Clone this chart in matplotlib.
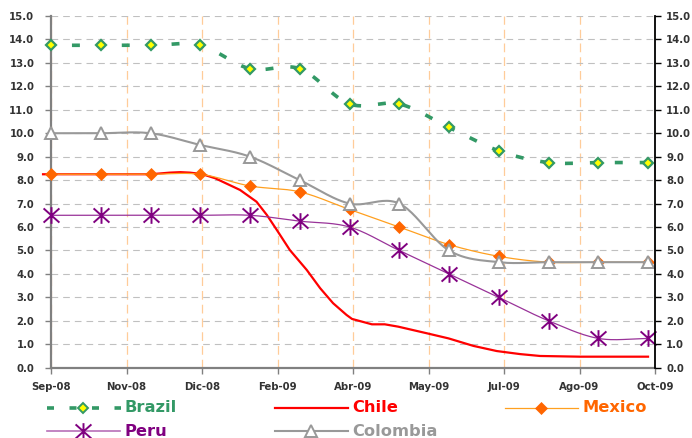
import numpy as np
import matplotlib
matplotlib.use("Agg")
import matplotlib.pyplot as plt
from matplotlib.path import Path
from matplotlib.ticker import FormatStrFormatter

# Monthly policy rates, Sep-08 .. Sep-09
months = np.arange(13)
brazil = [13.75, 13.75, 13.75, 13.75, 12.75, 12.75, 11.25, 11.25, 10.25, 9.25, 8.75, 8.75, 8.75]
mexico = [8.25, 8.25, 8.25, 8.25, 7.75, 7.50, 6.75, 6.00, 5.25, 4.75, 4.50, 4.50, 4.50]
peru = [6.50, 6.50, 6.50, 6.50, 6.50, 6.25, 6.00, 5.00, 4.00, 3.00, 2.00, 1.25, 1.25]
colombia = [10.0, 10.0, 10.0, 9.5, 9.0, 8.0, 7.0, 7.0, 5.0, 4.5, 4.5, 4.5, 4.5]

# Chile series (finer time steps, month units)
chile_t = [-0.16, 1.0, 2.0, 2.39, 2.6, 2.79, 3.03, 3.30, 3.80, 4.13, 4.34, 4.54, 4.80,
           5.14, 5.41, 5.67, 5.94, 6.05, 6.45, 6.71, 6.98, 7.55, 7.99, 8.49, 8.96,
           9.43, 9.83, 10.63, 12.0]
chile = [8.25, 8.25, 8.25, 8.32, 8.34, 8.32, 8.26, 8.08, 7.58, 7.08, 6.51, 5.87, 5.02,
         4.17, 3.39, 2.75, 2.25, 2.08, 1.85, 1.85, 1.75, 1.47, 1.25, 0.93, 0.71,
         0.58, 0.50, 0.47, 0.47]

tick_labels = ["Sep-08", "Nov-08", "Dic-08", "Feb-09", "Abr-09", "May-09",
               "Jul-09", "Ago-09", "Oct-09"]
x_end = 12.14

GREEN = "#339966"
RED = "#FF0000"
ORANGE_LINE = "#FFA020"
ORANGE = "#FF6600"
PURPLE = "#800080"
PURPLE_LINE = "#993399"
GRAY = "#999999"
TXT = "#333333"


def smooth(x, y, n=24):
    """Cardinal (Catmull-Rom) spline through evenly spaced points."""
    x = np.asarray(x, float)
    y = np.asarray(y, float)
    m = np.empty_like(y)
    m[1:-1] = (y[2:] - y[:-2]) / 2.0
    m[0] = (y[1] - y[0]) / 2.0
    m[-1] = (y[-1] - y[-2]) / 2.0
    t = np.linspace(0, 1, n, endpoint=False)
    h00 = 2 * t**3 - 3 * t**2 + 1
    h10 = t**3 - 2 * t**2 + t
    h01 = -2 * t**3 + 3 * t**2
    h11 = t**3 - t**2
    xs, ys = [], []
    for i in range(len(x) - 1):
        xs.append(x[i] + t * (x[i + 1] - x[i]))
        ys.append(h00 * y[i] + h10 * m[i] + h01 * y[i + 1] + h11 * m[i + 1])
    xs.append([x[-1]])
    ys.append([y[-1]])
    return np.concatenate(xs), np.concatenate(ys)


# Excel-like asterisk: an X plus a vertical bar
asterisk = Path([(-0.95, -0.85), (0.95, 0.85), (-0.95, 0.85), (0.95, -0.85), (0, -1), (0, 1)],
                [Path.MOVETO, Path.LINETO, Path.MOVETO, Path.LINETO, Path.MOVETO, Path.LINETO])

W, H = 692, 438
fig = plt.figure(figsize=(W / 100, H / 100), dpi=100)
x0, x1, ytop, ybot = 51, 655, 16, 367.7
ax = fig.add_axes([x0 / W, 1 - ybot / H, (x1 - x0) / W, (ybot - ytop) / H])

ax.set_xlim(0, x_end)
ax.set_ylim(0, 15)
ax.set_axisbelow(True)

# Brazil
bx, by = smooth(months, brazil)
ax.plot(bx, by, color=GREEN, lw=2.6, linestyle=(1.1, (2.2, 4.7)), zorder=3)
ax.plot(months, brazil, linestyle="none", marker="D", markersize=5.6, clip_on=False,
        markerfacecolor="#FFFF00", markeredgecolor=GREEN, markeredgewidth=1.6, zorder=3.1)

# Chile
ax.plot(chile_t, chile, color=RED, lw=1.6, clip_on=False, zorder=3.2)

# Mexico
mx, my = smooth(months, mexico)
ax.plot(mx, my, color=ORANGE_LINE, lw=0.9, zorder=3.3)
ax.plot(months, mexico, linestyle="none", marker="D", markersize=6.6, clip_on=False,
        markerfacecolor=ORANGE, markeredgecolor=ORANGE, markeredgewidth=0.5, zorder=3.4)

# Peru
px, py = smooth(months, peru)
ax.plot(px, py, color=PURPLE_LINE, lw=0.9, zorder=3.5)
ax.plot(months, peru, linestyle="none", marker=asterisk, markersize=12, clip_on=False,
        markerfacecolor="none", markeredgecolor=PURPLE, markeredgewidth=1.4, zorder=3.6)

# Colombia
cx, cy = smooth(months, colombia)
ax.plot(cx, cy, color=GRAY, lw=1.5, zorder=3.7)
ax.plot(months, colombia, linestyle="none", marker="^", markersize=8, clip_on=False,
        markerfacecolor="white", markeredgecolor=GRAY, markeredgewidth=1.4, zorder=3.8)

# Axes styling
ax.set_yticks(np.arange(0, 16, 1))
ax.yaxis.set_major_formatter(FormatStrFormatter("%.1f"))
ax.set_xticks(np.linspace(0, x_end, len(tick_labels)))
ax.set_xticklabels(tick_labels)

ax.grid(axis="y", color="#C0C0C0", lw=0.8, linestyle=(0, (6, 4.5)))
ax.grid(axis="x", color="#FFCC99", lw=0.9, linestyle=(0, (7, 4)))

for side in ("top", "right"):
    ax.spines[side].set_visible(False)
for side in ("left", "bottom"):
    ax.spines[side].set_color("#808080")
    ax.spines[side].set_linewidth(1.6)

ax.tick_params(axis="y", direction="out", length=4, width=1, color="#808080", pad=8)
ax.tick_params(axis="x", direction="out", length=4, width=1, color="#808080", pad=6)
for lbl in ax.get_xticklabels() + ax.get_yticklabels():
    lbl.set_fontsize(7.3)
    lbl.set_fontweight("bold")
    lbl.set_color(TXT)

ax2 = ax.twinx()
ax2.set_ylim(0, 15)
ax2.set_yticks(np.arange(0, 16, 1))
ax2.yaxis.set_major_formatter(FormatStrFormatter("%.1f"))
for side in ("top", "left", "bottom"):
    ax2.spines[side].set_visible(False)
ax2.spines["right"].set_color("black")
ax2.spines["right"].set_linewidth(1.3)
ax2.tick_params(axis="y", direction="out", length=4, width=1, color="black", pad=4)
for lbl in ax2.get_yticklabels():
    lbl.set_fontsize(7.3)
    lbl.set_fontweight("bold")
    lbl.set_color(TXT)

# Legend drawn in figure pixel space
lax = fig.add_axes([0, 0, 1, 1], zorder=-1)
lax.set_xlim(0, W)
lax.set_ylim(H, 0)
lax.axis("off")

leg_font = dict(fontsize=11.7, fontweight="bold", va="center", ha="left")
r1, r2 = 408, 431

lax.plot([47, 121], [r1, r1], color=GREEN, lw=2.6, linestyle=(0, (1.94, 4.29)))
lax.plot([83], [r1], marker="D", markersize=5, markerfacecolor="#FFFF00",
         markeredgecolor=GREEN, markeredgewidth=1.4)
lax.text(124, r1, "Brazil", color=GREEN, **leg_font)

lax.plot([275, 348], [r1, r1], color=RED, lw=1.6)
lax.text(352, r1, "Chile", color=RED, **leg_font)

lax.plot([505, 578], [r1, r1], color=ORANGE_LINE, lw=0.9)
lax.plot([541], [r1], marker="D", markersize=6.6, markerfacecolor=ORANGE,
         markeredgecolor=ORANGE, markeredgewidth=0.5)
lax.text(582, r1, "Mexico", color=ORANGE, **leg_font)

lax.plot([47, 120], [r2, r2], color="#B870B8", lw=1.2)
lax.plot([83], [r2], marker=asterisk, markersize=12, markerfacecolor="none",
         markeredgecolor=PURPLE, markeredgewidth=1.4)
lax.text(124, r2, "Peru", color=PURPLE, **leg_font)

lax.plot([275, 348], [r2, r2], color=GRAY, lw=1.5)
lax.plot([311], [r2], marker="^", markersize=8, markerfacecolor="white",
         markeredgecolor=GRAY, markeredgewidth=1.4)
lax.text(352, r2, "Colombia", color=GRAY, **leg_font)

fig.savefig("out.png", dpi=100)
